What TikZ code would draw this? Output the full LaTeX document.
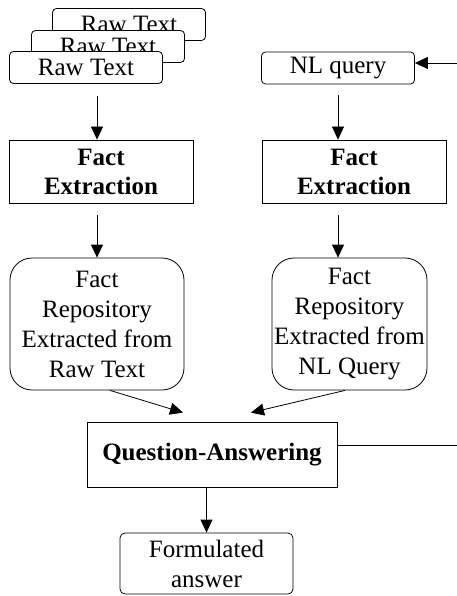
\documentclass[tikz,border=0pt]{standalone}
\usepackage{fontspec}
\setmainfont{Liberation Serif}
\usepackage{tikz}
\usetikzlibrary{arrows.meta, positioning, calc}

\begin{document}
\begin{tikzpicture}[x=1pt, y=-1pt,
    box/.style={draw, line width=0.8pt, fill=white, inner sep=0pt, align=center,
                font=\fontsize{25}{30}\selectfont},
    textbox/.style={box, rounded corners=4pt, minimum width=153pt, minimum height=32pt},
    factbox/.style={box, font=\fontsize{25}{29}\selectfont\bfseries, minimum width=184pt, minimum height=63pt},
    repobox/.style={box, rounded corners=22pt, minimum height=132pt},
    arr/.style={line width=0.8pt, -{Triangle[length=13pt, width=12pt]}}]
            \useasboundingbox (0,0) rectangle (457,596);

            % Input boxes
            \node[textbox] (raw3) at (129,24.5) {Raw Text};
            \node[textbox] (raw2) at (108,46.5) {Raw Text};
            \node[textbox] (raw1) at (86,67.5) {Raw Text};
            \node[textbox] (nlq) at (338,68) {NL query};

            % Fact extraction
            \node[factbox] (fe1) at (101,171.5) {Fact\\Extraction};
            \node[factbox] (fe2) at (354,171.5) {Fact\\Extraction};

            % Repositories
            \node[repobox, minimum width=174pt] (repo1) at (97,324) {Fact\\Repository\\Extracted from\\Raw Text};
            \node[repobox, minimum width=155pt] (repo2) at (349.5,324) {Fact\\Repository\\Extracted from\\NL Query};

            % QA and answer
            \node[box, font=\fontsize{25}{30}\selectfont\bfseries, minimum width=250pt, minimum height=65pt] (qa) at (212,454.5) {Question-Answering};
            \node[box, rounded corners=5pt, minimum width=173pt, minimum height=61pt] (ans) at (206.5,563.5) {Formulated\\answer};

            % Feedback ends
            \coordinate (fbout) at (457,445);
            \coordinate (fbin) at (457,63);

            % Arrows
            \draw[arr, shorten <=12pt] (raw1.south -| repo1) -- (fe1.north -| repo1);
            \draw[arr, shorten <=12pt] (fe1.south -| repo1) -- (repo1.north);
            \draw[arr, shorten <=11pt] (nlq.south) -- (fe2.north -| nlq);
            \draw[arr, shorten <=12pt] (fe2.south -| nlq) -- (repo2.north -| nlq);
            \draw[arr] ($(repo1.south)+(13,0)$) -- ($(qa.north)+(-29,-9)$);
            \draw[arr] ($(repo2.south)+(-4.5,0)$) -- ($(qa.north)+(39,-9)$);
            \draw[arr] (qa.south -| ans) -- (ans.north);
            \draw[line width=0.8pt] (fbout -| qa.east) -- (fbout);
            \draw[arr] (fbin) -- (fbin -| nlq.east);
        \end{tikzpicture}
\end{document}
